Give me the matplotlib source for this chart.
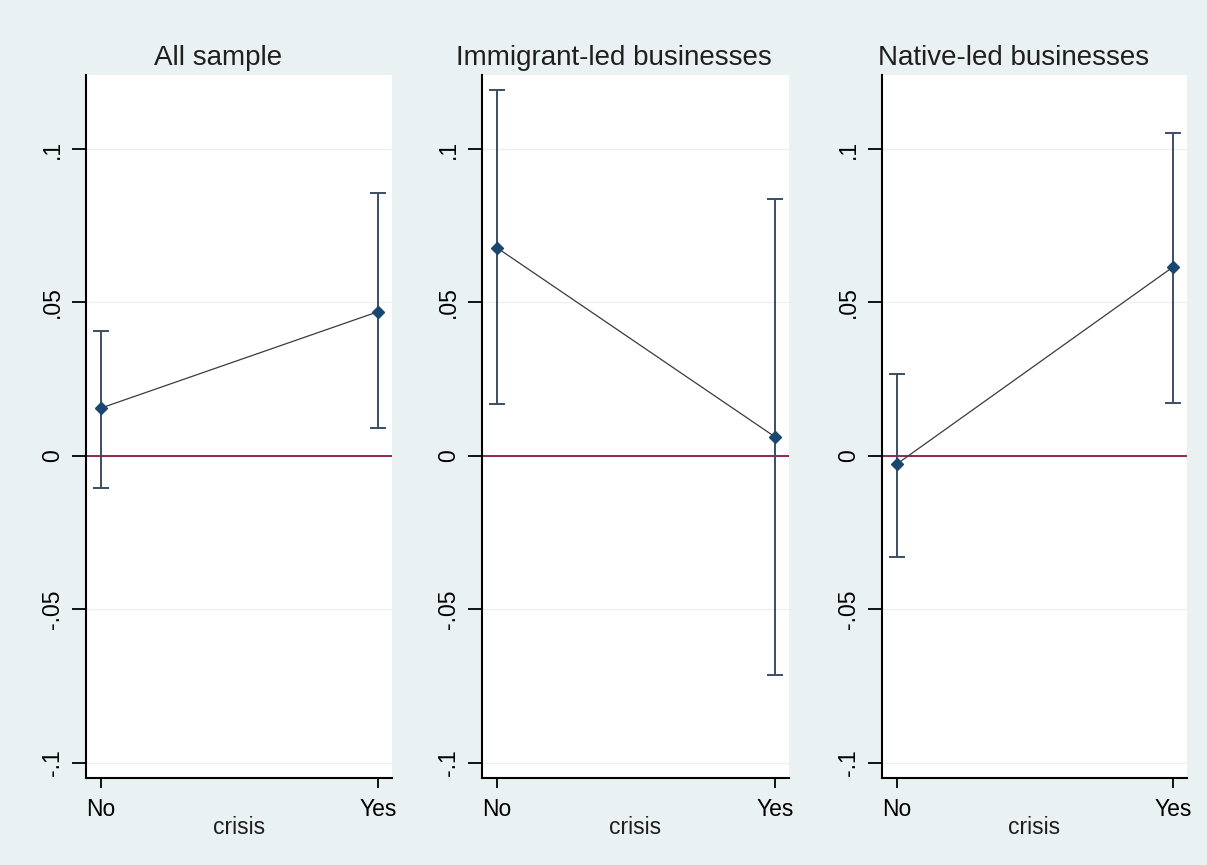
import numpy as np
import matplotlib.pyplot as plt

plt.rcParams['font.family'] = ['Liberation Sans', 'DejaVu Sans']

# margins at crisis = No / Yes, with 95% CI
titles = ['All sample', 'Immigrant-led businesses', 'Native-led businesses']
categories = ['No', 'Yes']
est = [[0.0156, 0.0470], [0.0678, 0.0062], [-0.0026, 0.0616]]
lo = [[-0.0104, 0.0091], [0.0169, -0.0713], [-0.0329, 0.0173]]
hi = [[0.0407, 0.0857], [0.1192, 0.0837], [0.0267, 0.1052]]
yticks = [-0.1, -0.05, 0, 0.05, 0.1]
ylabels = ['-.1', '-.05', '0', '.05', '.1']

bg = '#eaf1f3'
navy = '#1a476f'

fig = plt.figure(figsize=(12.07, 8.65), dpi=100, facecolor=bg)
lefts = [86, 482, 882]
widths = [306, 307, 305]
W, H = 1207, 865

for i in range(3):
    ax = fig.add_axes([lefts[i] / W, 87 / H, widths[i] / W, 703 / H])
    ax.set_facecolor('white')
    x = np.arange(len(categories))
    e = np.array(est[i])
    yerr = [e - np.array(lo[i]), np.array(hi[i]) - e]
    ax.axhline(0, color='#90163d', lw=1.3, zorder=2)
    ax.plot(x, e, color='#3a3a3a', lw=0.9, zorder=3)
    ax.errorbar(x, e, yerr=yerr, fmt='D', color=navy, ecolor='#3b4e63',
                ms=6, elinewidth=1.4, capsize=6, capthick=1.4, zorder=4)
    ax.set_xlim(-0.054, 1.05)
    ax.set_ylim(-0.1049, 0.1241)
    ax.set_yticks(yticks)
    ax.set_yticklabels(ylabels, rotation=90, va='center')
    ax.set_xticks(x)
    ax.set_xticklabels(categories)
    ax.grid(axis='y', color='#eef0f0', lw=1)
    ax.set_axisbelow(True)
    for s in ['top', 'right']:
        ax.spines[s].set_visible(False)
    for s in ['left', 'bottom']:
        ax.spines[s].set_linewidth(1.5)
        ax.spines[s].set_color('black')
    ax.tick_params(axis='y', length=10, width=1.3, labelsize=16.5, pad=6, colors='black')
    ax.tick_params(axis='x', length=7, width=1.3, labelsize=16.5, pad=7.5)
    ax.set_xlabel('crisis', fontsize=16.5, labelpad=-3.5, color='#1f1f1f')
    ax.set_title(titles[i], fontsize=20, x=0.43, pad=7, color='#1f1f1f')

fig.savefig('out.png', dpi=100, facecolor=bg)
